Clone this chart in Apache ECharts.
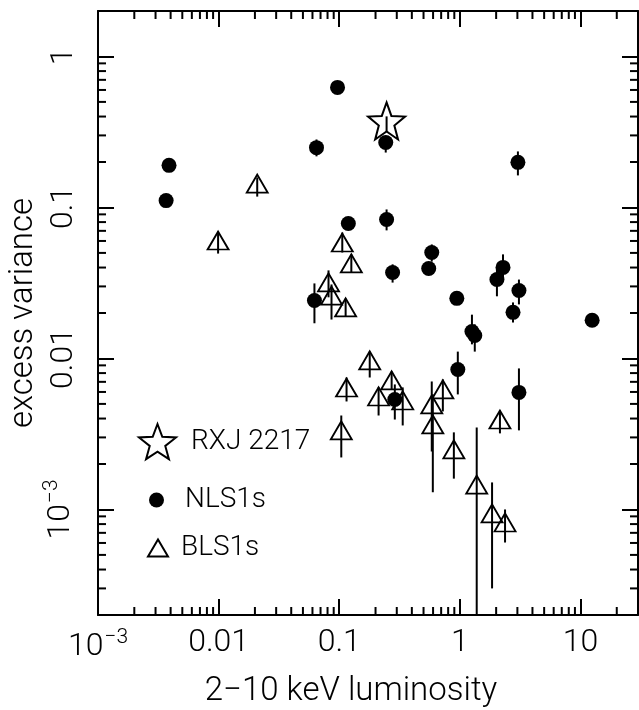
<!DOCTYPE html>
<html>
<head>
<meta charset="utf-8">
<title>excess variance vs 2-10 keV luminosity</title>
<script src="https://cdn.jsdelivr.net/npm/echarts@6/dist/echarts.min.js"></script>
<style>
  html, body { margin: 0; padding: 0; background: #fff; }
  #chart { width: 639px; height: 710px; }
</style>
</head>
<body>
<div id="chart"></div>
<script>
// axis ranges and tick labels
const xRange = [0.001, 30];
const yRange = [0.0002, 2];
const xTickLabels = { '-3': '{b|10}{s|−3}', '-2': '0.01', '-1': '0.1', '0': '1', '1': '10' };
const yTickLabels = { '-3': '{b|10}{s|−3}', '-2': '0.01', '-1': '0.1', '0': '1' };
const minorMult = [2, 3, 4, 5, 6, 7, 8, 9];

// RXJ 2217 (star)
const rxjX = [0.247];
const rxjY = [0.374];
const rxjLo = [0.318];
const rxjHi = [0.401];

// NLS1s (filled circles), null = no visible error bar
const nlsX = [0.00388, 0.00367, 0.0968, 0.0648, 0.243, 3.03, 0.119, 0.247, 0.585, 0.552, 0.277, 0.0623,
  0.944, 2.28, 2.03, 3.09, 2.76, 12.5, 1.26, 1.33, 0.962, 0.289, 3.09];
const nlsY = [0.190, 0.111, 0.624, 0.249, 0.269, 0.199, 0.0783, 0.0833, 0.0503, 0.0394, 0.0371, 0.0242,
  0.0250, 0.0401, 0.0333, 0.0282, 0.0202, 0.0179, 0.0151, 0.0142, 0.00845, 0.00535, 0.00596];
const nlsLo = [null, null, null, 0.218, 0.231, 0.163, null, 0.0705, 0.0438, null, 0.0318, 0.0171,
  null, 0.0333, 0.0258, 0.0228, 0.0173, null, 0.0124, 0.0111, 0.00578, 0.00394, 0.00334];
const nlsHi = [null, null, null, 0.282, 0.295, 0.235, null, 0.097, 0.0569, null, 0.0420, 0.0314,
  null, 0.0489, 0.0401, 0.0333, 0.0235, null, 0.0195, 0.0168, 0.0111, 0.00673, 0.00859];

// BLS1s (open triangles)
const blsX = [0.0209, 0.0099, 0.106, 0.126, 0.0815, 0.0863, 0.113, 0.179, 0.115, 0.272, 0.212, 0.336,
  0.104, 0.723, 0.585, 0.597, 0.892, 1.38, 2.15, 1.85, 2.37];
const blsY = [0.144, 0.0604, 0.0586, 0.0426, 0.0319, 0.0261, 0.0218, 0.0097, 0.00642, 0.00715, 0.00560, 0.00527,
  0.00334, 0.00624, 0.00496, 0.00366, 0.00250, 0.00146, 0.00394, 0.000942, 0.000820];
const blsLo = [0.118, 0.0495, 0.0503, 0.0372, 0.0254, 0.0181, 0.0190, 0.00748, 0.00519, 0.00623, 0.00419, 0.00360,
  0.00221, 0.00446, 0.00242, 0.00130, 0.00160, 0.0001, 0.00319, 0.000300, 0.000604];
const blsHi = [0.158, 0.0693, 0.0682, 0.0489, 0.0383, 0.0309, 0.0249, 0.0111, 0.00748, 0.00820, 0.00643, 0.00643,
  0.00419, 0.00726, 0.00704, 0.00578, 0.00324, 0.00349, 0.00453, 0.00151, 0.00100];

const FONT = 'Roboto';
const INK = '#000';

// 5-point star outline for the RXJ 2217 symbol
function starPath() {
  const pts = [];
  for (let i = 0; i < 10; i++) {
    const r = i % 2 === 0 ? 50 : 21;
    const a = -Math.PI / 2 + i * Math.PI / 5;
    pts.push((50 + r * Math.cos(a)).toFixed(2) + ',' + (50 + r * Math.sin(a)).toFixed(2));
  }
  return 'path://M' + pts.join('L') + 'Z';
}

function minorTicks(range) {
  const out = [];
  for (let e = -5; e <= 2; e++) {
    minorMult.forEach(m => {
      const v = m * Math.pow(10, e);
      if (v > range[0] * 1.0001 && v < range[1] * 0.9999) out.push(v);
    });
  }
  return out;
}

function decadeLabel(table) {
  return v => {
    const e = Math.log10(v);
    const k = Math.round(e);
    if (Math.abs(e - k) > 1e-6) return '';
    return table[k] || '';
  };
}

const tickStyle = { color: INK, width: 2 };
const labelRich = {
  b: { fontSize: 32, fontFamily: FONT, fontWeight: 300, color: INK },
  s: { fontSize: 21, fontFamily: FONT, fontWeight: 300, color: INK, padding: [0, 0, 18, 1] }
};

function errorBars(xs, los, his) {
  const data = [];
  xs.forEach((x, i) => { if (los[i] != null) data.push([x, los[i], his[i]]); });
  return {
    type: 'custom', silent: true, clip: true, z: 3,
    encode: { x: 0, y: [1, 2] },
    data: data,
    renderItem: (params, api) => {
      const a = api.coord([api.value(0), api.value(1)]);
      const b = api.coord([api.value(0), api.value(2)]);
      return { type: 'line', shape: { x1: a[0], y1: a[1], x2: b[0], y2: b[1] },
        style: { stroke: INK, lineWidth: 2 } };
    }
  };
}

function minorTickSeries(values, dim) {
  return {
    type: 'custom', silent: true, clip: false, z: 4,
    encode: { x: 0, y: 1 },
    data: values.map(v => dim === 'x' ? [v, 1] : [1, v]),
    renderItem: (params, api) => {
      const cs = params.coordSys;
      const p = api.coord([api.value(0), api.value(1)]);
      const st = { stroke: INK, lineWidth: 2 };
      if (dim === 'x') {
        return { type: 'group', children: [
          { type: 'line', shape: { x1: p[0], y1: cs.y + cs.height, x2: p[0], y2: cs.y + cs.height - 8 }, style: st },
          { type: 'line', shape: { x1: p[0], y1: cs.y, x2: p[0], y2: cs.y + 8 }, style: st }
        ] };
      }
      return { type: 'group', children: [
        { type: 'line', shape: { x1: cs.x, y1: p[1], x2: cs.x + 8, y2: p[1] }, style: st },
        { type: 'line', shape: { x1: cs.x + cs.width, y1: p[1], x2: cs.x + cs.width - 8, y2: p[1] }, style: st }
      ] };
    }
  };
}

function legendBox(name, left, top, w, h, gap) {
  return {
    data: [{ name: name }], left: left, top: top, padding: 0,
    itemWidth: w, itemHeight: h, selectedMode: false,
    textStyle: { fontSize: 28, fontFamily: FONT, fontWeight: 300, color: INK, padding: [0, 0, 0, gap] }
  };
}

const chart = echarts.init(document.getElementById('chart'));

const baseX = {
  type: 'log', logBase: 10, min: xRange[0], max: xRange[1],
  axisLine: { show: true, onZero: false, lineStyle: { color: INK, width: 2 } },
  axisTick: { show: true, inside: true, length: 16, lineStyle: tickStyle },
  splitLine: { show: false }
};
const baseY = {
  type: 'log', logBase: 10, min: yRange[0], max: yRange[1],
  axisLine: { show: true, onZero: false, lineStyle: { color: INK, width: 2 } },
  axisTick: { show: true, inside: true, length: 16, lineStyle: tickStyle },
  splitLine: { show: false }
};

chart.setOption({
  animation: false,
  backgroundColor: '#fff',
  grid: { left: 98, right: 1, top: 11, bottom: 95, containLabel: false, outerBoundsMode: 'none' },
  xAxis: [
    Object.assign({}, baseX, {
      position: 'bottom',
      name: '2−10 keV luminosity', nameLocation: 'middle', nameGap: 60, nameMoveOverlap: false,
      nameTextStyle: { fontSize: 33, fontFamily: FONT, fontWeight: 300, color: INK, padding: [0, 34, 0, 0] },
      axisLabel: { margin: 12, formatter: decadeLabel(xTickLabels), rich: labelRich,
        fontSize: 32, fontFamily: FONT, fontWeight: 300, color: INK,
        showMinLabel: true, showMaxLabel: true, hideOverlap: false }
    }),
    Object.assign({}, baseX, { position: 'top', axisLabel: { show: false } })
  ],
  yAxis: [
    Object.assign({}, baseY, {
      position: 'left',
      name: 'excess variance', nameLocation: 'middle', nameGap: 58, nameRotate: 90, nameMoveOverlap: false,
      nameTextStyle: { fontSize: 33, fontFamily: FONT, fontWeight: 300, color: INK },
      axisLabel: { margin: 18, rotate: 90, formatter: decadeLabel(yTickLabels), rich: labelRich,
        fontSize: 32, fontFamily: FONT, fontWeight: 300, color: INK, hideOverlap: false }
    }),
    Object.assign({}, baseY, { position: 'right', axisLabel: { show: false } })
  ],
  legend: [
    legendBox('RXJ 2217', 138, 423, 37, 37, 10),
    legendBox('NLS1s', 149, 486, 15, 15, 16),
    legendBox('BLS1s', 147, 534, 20, 17, 8)
  ],
  series: [
    minorTickSeries(minorTicks(xRange), 'x'),
    minorTickSeries(minorTicks(yRange), 'y'),
    errorBars(nlsX, nlsLo, nlsHi),
    errorBars(blsX, blsLo, blsHi),
    errorBars(rxjX, rxjLo, rxjHi),
    {
      name: 'RXJ 2217', type: 'scatter', z: 6,
      symbol: starPath(), symbolSize: 37,
      itemStyle: { color: 'rgba(0,0,0,0)', borderColor: INK, borderWidth: 2, opacity: 1 },
      emphasis: { disabled: true },
      data: rxjX.map((x, i) => [x, rxjY[i]])
    },
    {
      name: 'NLS1s', type: 'scatter', z: 6,
      symbol: 'circle', symbolSize: 15,
      itemStyle: { color: INK, opacity: 1 },
      emphasis: { disabled: true },
      data: nlsX.map((x, i) => [x, nlsY[i]])
    },
    {
      name: 'BLS1s', type: 'scatter', z: 6,
      symbol: 'triangle', symbolSize: [21, 18],
      itemStyle: { color: 'rgba(0,0,0,0)', borderColor: INK, borderWidth: 1.8, opacity: 1 },
      emphasis: { disabled: true },
      data: blsX.map((x, i) => [x, blsY[i]])
    }
  ]
});
</script>
</body>
</html>
